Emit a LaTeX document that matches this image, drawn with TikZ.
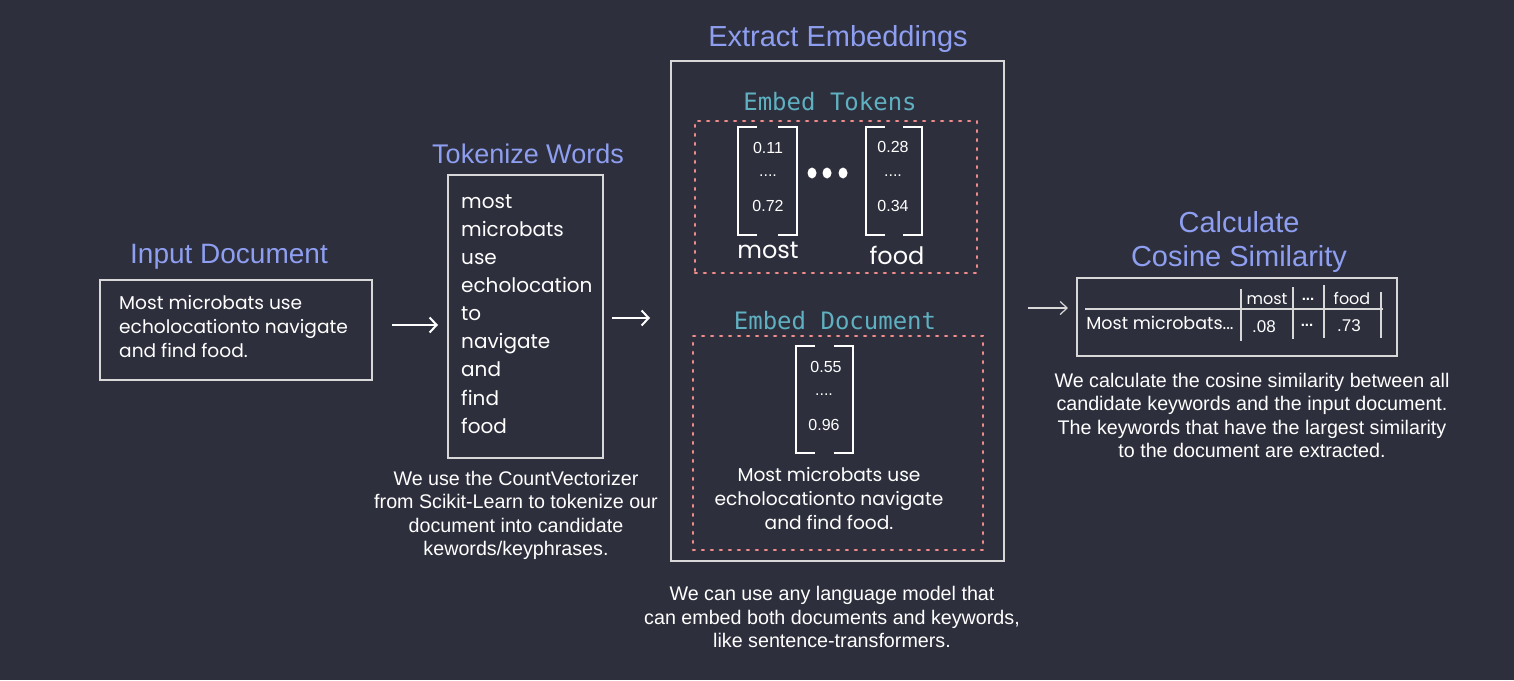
\documentclass[tikz,border=0pt]{standalone}
\usepackage{fontspec}
\setmainfont{Liberation Sans}
\newfontfamily\handfont{Poppins}
\newfontfamily\monofont{DejaVu Sans Mono}
\usetikzlibrary{arrows.meta}
\definecolor{bg}{HTML}{2D2F3C}
\definecolor{titlec}{HTML}{8E9EF0}
\definecolor{tealc}{HTML}{5FB0C0}
\definecolor{redc}{HTML}{F28B8B}
\definecolor{linec}{HTML}{D8D8D8}
\tikzset{
  title/.style={text=titlec,font=\fontsize{27}{32}\selectfont,inner sep=0},
  subtitle/.style={text=tealc,font=\monofont\fontsize{24}{28}\selectfont,inner sep=0},
  caption/.style={text=white,font=\fontsize{19.7}{23.4}\selectfont,align=center,inner sep=0},
  hand/.style={text=white,font=\handfont\fontsize{18.6}{24}\selectfont,inner sep=0},
  box/.style={draw=linec,line width=1.6pt,inner sep=0},
  dotbox/.style={draw=redc,line width=2.7pt,line cap=round,dash pattern=on 1.8pt off 7.2pt,inner sep=0},
  arr/.style={draw=white,line width=2pt,-{Straight Barb[length=7pt,width=15pt,line width=2pt]}},
  thinarr/.style={draw=linec,line width=1.2pt,-{Straight Barb[length=7pt,width=13pt,line width=1.2pt]}},
  num/.style={text=white,font=\fontsize{16}{19}\selectfont,inner sep=0},
  vecbox/.style={minimum width=59pt,minimum height=108pt,inner sep=0},
  brk/.style={draw=white,line width=2.4pt},
  tline/.style={draw=linec,line width=1.3pt},
  tab/.style={text=white,font=\handfont\fontsize{17.5}{20}\selectfont,inner sep=0},
  tabhead/.style={text=white,font=\handfont\fontsize{16}{20}\selectfont,inner sep=0},
  tabnum/.style={text=white,font=\fontsize{17}{20}\selectfont,inner sep=0},
}
\begin{document}
\begin{tikzpicture}[x=1pt,y=-1pt]
\fill[bg] (0,0) rectangle (1514,680);
\useasboundingbox (0,0) rectangle (1514,680);

% ---- Input document
\node[title,font=\fontsize{28}{32}\selectfont] (t1) at (229,257) {Input Document};
\node[box,minimum width=272pt,minimum height=100pt] (inbox) at (236,330) {};
\node[hand,align=left,anchor=west] (intext) at (119,327) {Most microbats use\\echolocationto navigate\\and find food.};

% ---- Tokenize
\node[title] (t2) at (528,154) {Tokenize Words};
\node[box,minimum width=155pt,minimum height=283pt] (tokbox) at (525.5,316.5) {};
\node[hand,align=left,anchor=west,font=\handfont\fontsize{20}{28.1}\selectfont] (toktext) at (461,314)
  {most\\microbats\\use\\echolocation\\to\\navigate\\and\\find\\food};
\node[caption] (c2) at (516,515.5) {We use the CountVectorizer\\from Scikit-Learn to tokenize our\\document into candidate\\kewords/keyphrases.};

% ---- Extract embeddings
\node[title,font=\fontsize{29}{32}\selectfont] (t3) at (838,39) {Extract Embeddings};
\node[box,minimum width=333pt,minimum height=500pt] (embox) at (837.5,311) {};
\node[subtitle] (s1) at (830,102) {Embed Tokens};
\node[dotbox,minimum width=282pt,minimum height=152pt] (tokdots) at (836,197) {};
\node[vecbox] (v1) at (767.5,181) {};
\node[vecbox,minimum width=56pt] (v2) at (894,181) {};
\foreach \v in {v1,v2}{
  \draw[brk] ([xshift=19pt]\v.north west) -- (\v.north west) -- (\v.south west) -- ([xshift=19pt]\v.south west);
  \draw[brk] ([xshift=-19pt]\v.north east) -- (\v.north east) -- (\v.south east) -- ([xshift=-19pt]\v.south east);
}
\node[num] (n11) at (768,148) {0.11};
\node[num] (n12) at (768,176) {....};
\node[num] (n13) at (768,206) {0.72};
\node[num] (n21) at (893,147) {0.28};
\node[num] (n22) at (893,176) {....};
\node[num] (n23) at (893,206) {0.34};
\node[hand,font=\handfont\fontsize{24}{28}\selectfont] (w1) at (768,250) {most};
\node[hand,font=\handfont\fontsize{24}{28}\selectfont] (w2) at (897,255) {food};
\foreach \x/\n in {812/d1,827/d2,843/d3}{
  \fill[white] (\x,173) ellipse [x radius=4.5pt,y radius=5.5pt];
}
\node[subtitle] (s2) at (835,321) {Embed Document};
\node[dotbox,minimum width=290pt,minimum height=214pt] (docdots) at (838,443) {};
\node[vecbox,minimum width=57pt,minimum height=107pt] (v3) at (824.5,399.5) {};
\draw[brk] ([xshift=19pt]v3.north west) -- (v3.north west) -- (v3.south west) -- ([xshift=19pt]v3.south west);
\draw[brk] ([xshift=-19pt]v3.north east) -- (v3.north east) -- (v3.south east) -- ([xshift=-19pt]v3.south east);
\node[num] (n31) at (826,367) {0.55};
\node[num] (n32) at (824,395) {....};
\node[num] (n33) at (824,425) {0.96};
\node[hand,align=center] (doctext) at (829,498.5) {Most microbats use\\echolocationto navigate\\and find food.};
\node[caption] (c3) at (832,617) {We can use any language model that\\can embed both documents and keywords,\\like sentence-transformers.};

% ---- Cosine similarity
\node[title,align=center,font=\fontsize{29}{34}\selectfont] (t4) at (1239,242) {Calculate\\Cosine Similarity};
\node[box,minimum width=320pt,minimum height=78pt] (tabbox) at (1237,317) {};
\coordinate (hl1) at (1085,309);
\coordinate (hl2) at (1383,309);
\draw[tline] (hl1) -- (hl2);
\coordinate (va1) at (1241,289); \coordinate (va2) at (1241,341);
\coordinate (vb1) at (1293,287); \coordinate (vb2) at (1293,339);
\coordinate (vc1) at (1324,285); \coordinate (vc2) at (1324,338);
\coordinate (vd1) at (1381,292); \coordinate (vd2) at (1381,338);
\draw[tline] (va1) -- (va2);
\draw[tline] (vb1) -- (vb2);
\draw[tline] (vc1) -- (vc2);
\draw[tline] (vd1) -- (vd2);
\node[tabhead] (h1) at (1267,299) {most};
\node[tab,font=\bfseries\fontsize{15}{18}\selectfont] (h2) at (1308,299) {...};
\node[tabhead] (h3) at (1352,298) {food};
\node[tab] (r0) at (1160,323) {Most microbats...};
\node[tabnum] (r1) at (1264,327) {.08};
\node[tab,font=\bfseries\fontsize{15}{18}\selectfont] (r2) at (1307,325) {...};
\node[tabnum] (r3) at (1349,326) {.73};
\node[caption] (c4) at (1252,415.5) {We calculate the cosine similarity between all\\candidate keywords and the input document.\\The keywords that have the largest similarity\\to the document are extracted.};

% ---- arrows
\coordinate (a1s) at (392,325); \coordinate (a1e) at (438,325);
\coordinate (a2s) at (612,318); \coordinate (a2e) at (650,318);
\coordinate (a3s) at (1028,308); \coordinate (a3e) at (1068,308);
\draw[arr] (a1s) -- (a1e);
\draw[arr] (a2s) -- (a2e);
\draw[thinarr] (a3s) -- (a3e);
\end{tikzpicture}
\end{document}
